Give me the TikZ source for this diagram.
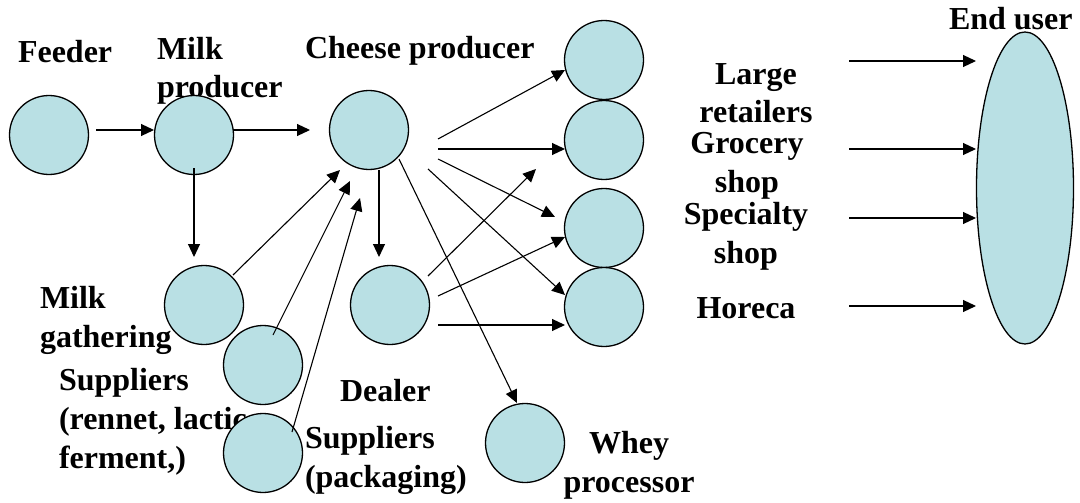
\documentclass[tikz,border=0pt]{standalone}
\usepackage{fontspec}
\setmainfont{Liberation Serif}
\usetikzlibrary{arrows.meta,calc,shapes.geometric}
\definecolor{nodefill}{RGB}{185,224,228}
\begin{document}
\begin{tikzpicture}[x=1pt,y=-1pt,
  lbl/.style={font=\fontsize{32}{39}\selectfont\bfseries, inner sep=0pt, outer sep=0pt, anchor=base west, align=left},
  clbl/.style={lbl, anchor=base, align=center},
  disc/.style={circle, draw=black, line width=1.3pt, fill=nodefill, minimum size=79pt, inner sep=0pt},
  flow/.style={-{Triangle[length=13pt,width=12pt]}, line width=1.1pt}]
\useasboundingbox (0,0) rectangle (1080,503);

% labels (drawn first, the discs may cover parts of them);
% a multi-line label is placed by the baseline of its last line
\node[lbl] (tFeeder) at (18,63) {Feeder};
\node[lbl] (tMilk) at (157,98) {Milk\\producer};
\node[lbl] (tCheese) at (305,59) {Cheese producer};
\node[lbl] (tEnd) at (949,30) {End user};
\node[clbl] (tLarge) at (756,123) {Large\\retailers};
\node[clbl] (tGrocery) at (747,192) {Grocery\\shop};
\node[clbl] (tSpecialty) at (746,263) {Specialty\\shop};
\node[clbl] (tHoreca) at (746,318) {Horeca};
\node[lbl] (tGather) at (40,347) {Milk\\gathering};
\node[lbl] (tRennet) at (59,468) {Suppliers\\(rennet, lactic\\ferment,)};
\node[lbl] (tDealer) at (340,401) {Dealer};
\node[lbl] (tPack) at (305,487) {Suppliers\\(packaging)};
\node[clbl] (tWhey) at (629,492) {Whey\\processor};

% actors
\node[disc] (feeder) at (49,135) {};
\node[disc] (milk) at (194,135) {};
\node[disc] (cheese) at (369,130) {};
\node[disc] (r1) at (604,60) {};
\node[disc] (r2) at (604,140) {};
\node[disc] (r3) at (604,228) {};
\node[disc] (r4) at (604,307) {};
\node[disc] (dealer) at (390,305) {};
\node[disc] (whey) at (525,443) {};
\node[disc] (gather) at (204,305) {};
\node[disc] (rennet) at (263,365) {};
\node[disc] (pack) at (263,453) {};
\node[ellipse, draw=black, line width=1.3pt, fill=nodefill, minimum width=97pt, minimum height=312pt, inner sep=0pt] (enduser) at (1025,188) {};

% flows
\draw[flow] ($(feeder)+(47,-5)$) -- ($(milk)+(-40,-5)$);
\draw[flow] ($(milk)+(39,-5)$) -- ($(cheese)+(-59,0)$);
\draw[flow] ($(milk)+(0,33)$) -- ($(gather)+(-10,-48)$);
\draw[flow] ($(gather)+(29,-30)$) -- ($(cheese)+(-29,40)$);
\draw[flow] ($(rennet)+(10,-30)$) -- ($(cheese)+(-19,51)$);
\draw[flow] ($(pack)+(29,-21)$) -- ($(cheese)+(-9,68)$);
\draw[flow] ($(cheese)+(10,40)$) -- ($(dealer)+(-11,-48)$);
\draw[flow] ($(cheese)+(30,29)$) -- ($(whey)+(-8,-40)$);
\draw[flow] ($(cheese)+(69,9)$) -- ($(r1)+(-39,10)$);
\draw[flow] ($(cheese)+(69,19)$) -- ($(r2)+(-39,9)$);
\draw[flow] ($(cheese)+(69,29)$) -- ($(r3)+(-49,-11)$);
\draw[flow] ($(cheese)+(59,39)$) -- ($(r4)+(-39,-12)$);
\draw[flow] ($(dealer)+(38,-29)$) -- ($(r3)+(-68,-59)$);
\draw[flow] ($(dealer)+(48,-9)$) -- ($(r3)+(-39,9)$);
\draw[flow] ($(dealer)+(48,20)$) -- ($(r4)+(-39,18)$);

\draw[flow] ($(enduser)+(-176,-127)$) -- ($(enduser)+(-49,-127)$);
\draw[flow] ($(enduser)+(-176,-39)$) -- ($(enduser)+(-49,-39)$);
\draw[flow] ($(enduser)+(-176,30)$) -- ($(enduser)+(-49,30)$);
\draw[flow] ($(enduser)+(-176,118)$) -- ($(enduser)+(-49,118)$);
\end{tikzpicture}
\end{document}
